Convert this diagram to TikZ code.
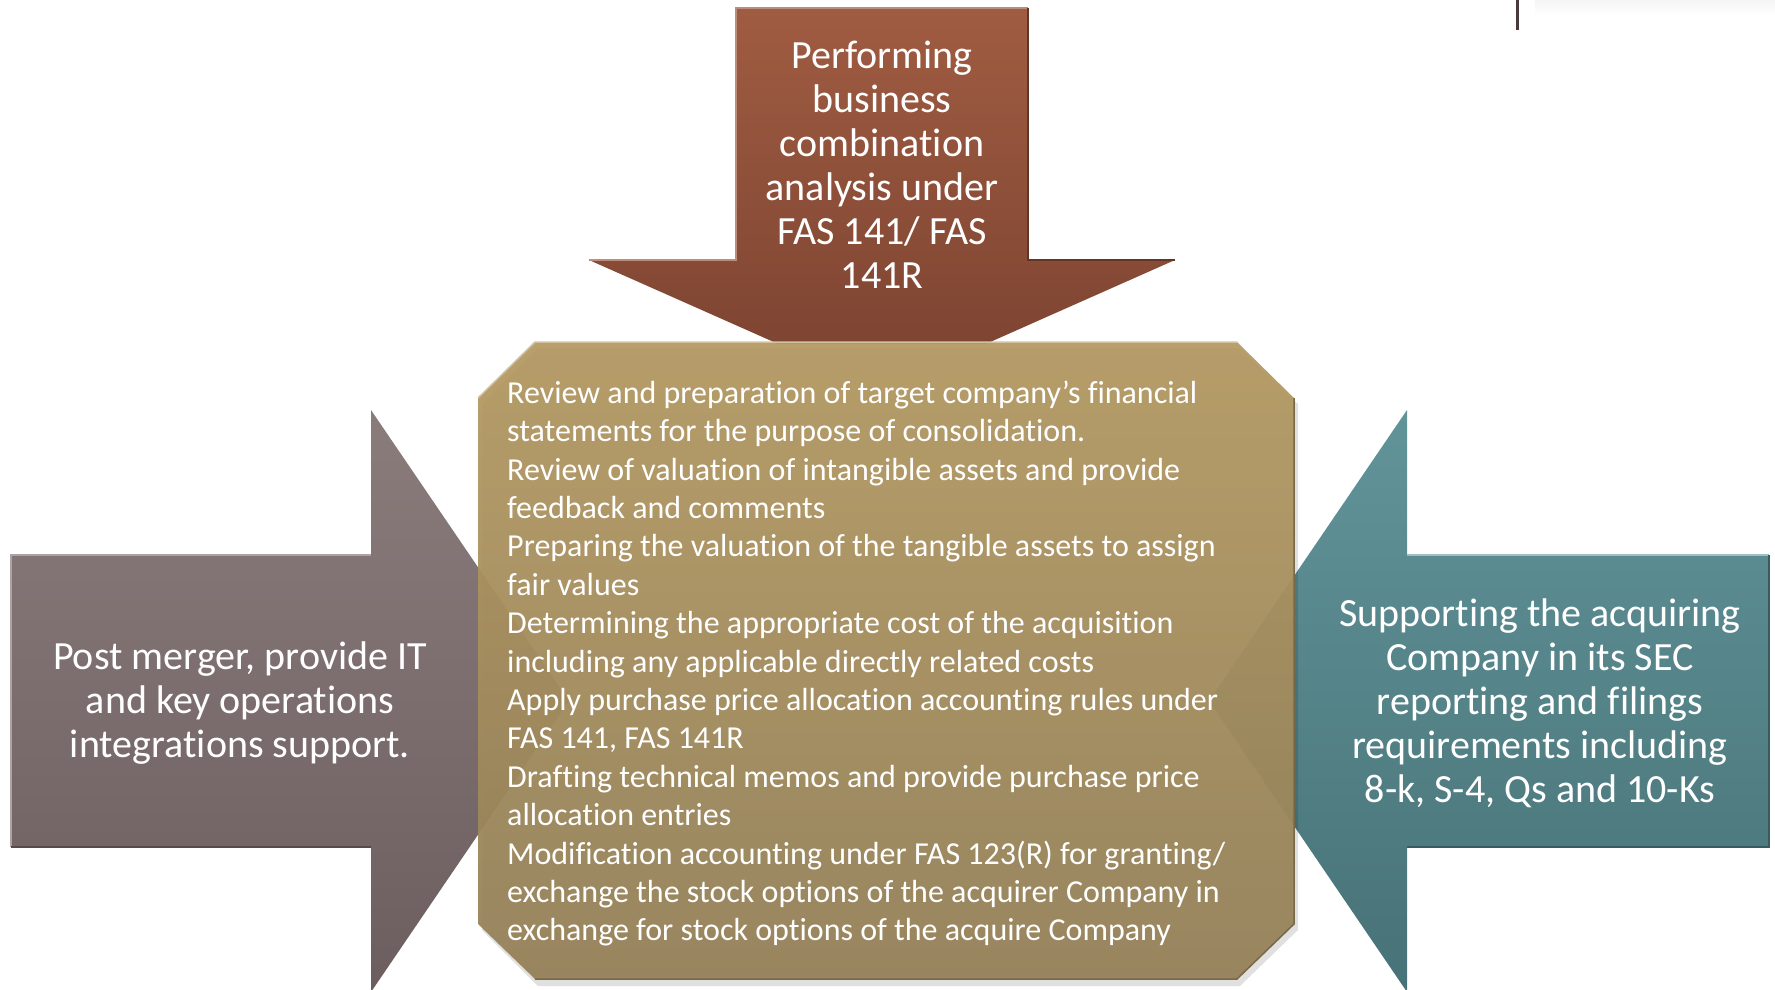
\documentclass[tikz,border=0pt]{standalone}
\usepackage{fontspec}
\setmainfont{Carlito}[Ligatures=NoCommon]
\definecolor{brTop}{HTML}{A05C42}
\definecolor{brBot}{HTML}{7A4230}
\definecolor{mvTop}{HTML}{8B7C7C}
\definecolor{mvBot}{HTML}{6C5E5F}
\definecolor{tlTop}{HTML}{619499}
\definecolor{tlBot}{HTML}{477277}
\definecolor{okTop}{HTML}{B59A63}
\definecolor{okBot}{HTML}{958259}
\definecolor{stray}{HTML}{4A3A3C}
\tikzset{
  shapeedge/.style={line width=1.5pt, line join=miter},
  bigtext/.style={text=white, align=center, inner sep=0pt,
    font=\fontsize{40}{44}\selectfont},
  listtext/.style={text=white, align=left, inner sep=0pt,
    font=\fontsize{32}{38.4}\selectfont},
}
\begin{document}
\begin{tikzpicture}[x=1pt,y=-1pt]
\useasboundingbox (0,0) rectangle (1775,990);
% faint shade at top right
\shade[top color=gray!8, bottom color=white] (1535,0) rectangle (1775,16);
\draw[stray, line width=3pt] (1517,0) -- (1517,30);

% top arrow (down), its tip hidden behind the octagon
\begin{scope}
\clip (0,0) rectangle (1775,343);
\shade[top color=brTop, bottom color=brBot]
  (736,8) -- (1028,8) -- (1028,260) -- (1175,260) -- (882,390) -- (589,260) -- (736,260) -- cycle;
\end{scope}
\draw[shapeedge, brTop!70!white]
  (589,260) -- (736,260) -- (736,8) -- (1028,8);
\draw[shapeedge, brBot!80!black] (1028,8) -- (1028,260) -- (1175,260);

% left arrow (right)
\shade[top color=mvTop, bottom color=mvBot]
  (11,555) -- (371,555) -- (371,410) -- (569,701) -- (371,992) -- (371,847) -- (11,847) -- cycle;
\draw[shapeedge, mvTop!70!white] (11,847) -- (11,555) -- (371,555);
\draw[shapeedge, mvBot!80!black] (11,847) -- (371,847);

% right arrow (left)
\shade[top color=tlTop, bottom color=tlBot]
  (1769,555) -- (1407,555) -- (1407,410) -- (1209,701) -- (1407,992) -- (1407,847) -- (1769,847) -- cycle;
\draw[shapeedge, tlTop!60!white] (1407,555) -- (1769,555);
\draw[shapeedge, tlBot!80!black] (1769,555) -- (1769,847) -- (1407,847);

% shadow of the octagon
\fill[black, opacity=0.12]
  (538,348) -- (1240,348) -- (1298,404) -- (1298,930) -- (1240,986) -- (538,986) -- (482,930) -- (482,404) -- cycle;
% central octagon
\shade[top color=okTop, bottom color=okBot, opacity=0.95]
  (535,342) -- (1237,342) -- (1294,398) -- (1294,924) -- (1237,979) -- (535,979) -- (478,924) -- (478,398) -- cycle;
\draw[shapeedge, okTop!60!white] (478,398) -- (535,342) -- (1237,342);
\draw[shapeedge, okBot!80!black] (1294,398) -- (1294,924) -- (1237,979) -- (535,979);

% texts
\node[bigtext] (toptext) at (882,165)
  {Performing\\business\\combination\\analysis under\\FAS 141/ FAS\\141R};
\node[bigtext] (lefttext) at (240,703.5)
  {Post merger, provide IT\\and key operations\\integrations support.};
\node[bigtext] (righttext) at (1540,703.5)
  {Supporting the acquiring\\Company in its SEC\\reporting and filings\\requirements including\\8-k, S-4, Qs and 10-Ks};
\node[listtext, anchor=west] (listbody) at (507,663.5)
  {Review and preparation of target company’s financial\\
   statements for the purpose of consolidation.\\
   Review of valuation of intangible assets and provide\\
   feedback and comments\\
   Preparing the valuation of the tangible assets to assign\\
   fair values\\
   Determining the appropriate cost of the acquisition\\
   including any applicable directly related costs\\
   Apply purchase price allocation accounting rules under\\
   FAS 141, FAS 141R\\
   Drafting technical memos and provide purchase price\\
   allocation entries\\
   Modification accounting under FAS 123(R) for granting/\\
   exchange the stock options of the acquirer Company in\\
   exchange for stock options of the acquire Company};
\end{tikzpicture}
\end{document}
